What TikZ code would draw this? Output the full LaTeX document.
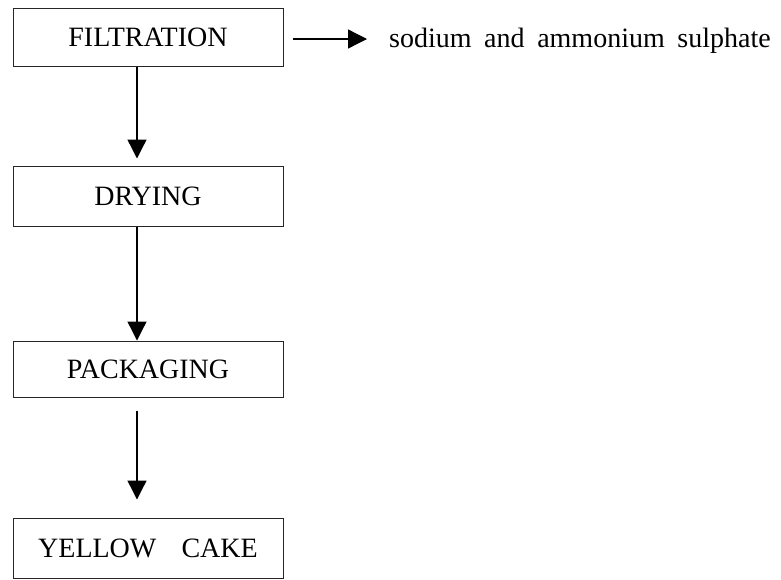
\documentclass[tikz,border=0pt]{standalone}
\usepackage{fontspec}
\setmainfont{Liberation Serif}
\usetikzlibrary{arrows.meta}
\begin{document}
\begin{tikzpicture}[x=1pt,y=1pt,
  font=\fontsize{28}{34}\selectfont,
  stage/.style={draw=black!85, line width=1pt, rectangle, minimum width=270pt, inner sep=0pt},
  flow/.style={draw=black, line width=1.3pt, -{Triangle[length=19pt,width=19pt]}}]
  \useasboundingbox (0,0) rectangle (781,-579);
  \fill[white] (0,0) rectangle (781,-579);

  % process stages
  \node[stage, minimum height=58pt] (filt) at (148,-37) {FILTRATION};
  \node[stage, minimum height=60pt] (dry) at (148,-196) {DRYING};
  \node[stage, minimum height=56pt] (pack) at (148,-369) {PACKAGING};
  \node[stage, minimum height=60pt] (cake) at (148,-548) {YELLOW\hspace{0.9em}CAKE};

  % by-product
  \node[inner sep=0pt, anchor=base west] (byprod) at (389,-47) {sodium\hspace{0.45em}and\hspace{0.45em}ammonium\hspace{0.45em}sulphate};

  % connectors
  \draw[flow, shorten >=7pt] ([xshift=-11pt]filt.south) -- ([xshift=-11pt]dry.north);
  \draw[flow] ([xshift=-11pt]dry.south) -- ([xshift=-11pt]pack.north);
  \draw[flow, shorten <=13pt, shorten >=18pt] ([xshift=-11pt]pack.south) -- ([xshift=-11pt]cake.north);
  \draw[flow, shorten <=9pt, shorten >=22pt] ([yshift=-2pt]filt.east) -- ([yshift=-2pt]filt.east -| byprod.west);
\end{tikzpicture}
\end{document}
